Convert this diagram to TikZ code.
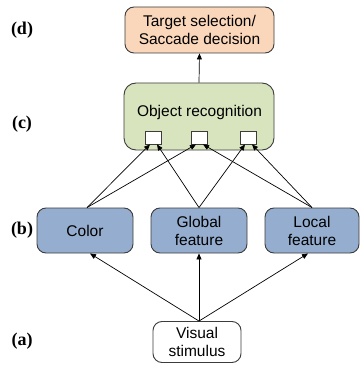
\documentclass[tikz,border=0pt]{standalone}
\usepackage{fontspec}
\setmainfont{Liberation Sans}
\newfontfamily\labelfont{Liberation Serif}
\usetikzlibrary{arrows.meta,calc}

\definecolor{peach}{RGB}{250,214,186}
\definecolor{sage}{RGB}{215,228,190}
\definecolor{steel}{RGB}{149,173,206}
\definecolor{edge}{RGB}{60,60,60}

\tikzset{
  box/.style={draw=edge, line width=0.9pt, rounded corners=9pt, align=center,
    inner sep=0pt, font=\fontsize{15.5}{18}\selectfont},
  port/.style={draw=edge, line width=0.8pt, fill=white, minimum width=16pt,
    minimum height=13pt, inner sep=0pt},
  link/.style={line width=0.7pt, -{Triangle[length=6pt,width=5pt]}},
  level/.style={font=\labelfont\bfseries\fontsize{18}{20}\selectfont}
}

\begin{document}
\begin{tikzpicture}[x=1pt,y=-1pt]
\useasboundingbox (0,0) rectangle (360,366);

% top decision stage
\node[box, fill=peach, minimum width=149pt, minimum height=46pt] (target) at (199.5,30)
  {Target selection/\\Saccade decision};

% recognition stage with its three input ports
\node[box, fill=sage, rounded corners=12pt, minimum width=150pt, minimum height=67pt] (obj) at (199,116.5) {};
\node[font=\fontsize{15.5}{18}\selectfont, inner sep=0pt] (objtext) at (199.5,112.5) {Object recognition};
\node[port] (s1) at (153.5,137.5) {};
\node[port] (s2) at (199.5,137.5) {};
\node[port] (s3) at (248.5,137.5) {};

% feature stage
\node[box, fill=steel, minimum width=96pt, minimum height=45pt] (color) at (85,230.5) {Color};
\node[box, fill=steel, minimum width=96pt, minimum height=45pt] (global) at (199,230.5) {Global\\feature};
\node[box, fill=steel, minimum width=94pt, minimum height=45pt] (local) at (312,230.5) {Local\\feature};

% input
\node[box, fill=white, minimum width=88pt, minimum height=41pt] (visual) at (197,342) {Visual\\stimulus};

% stage labels
\node[level] (la) at (22,341) {(a)};
\node[level] (lb) at (22,230) {(b)};
\node[level] (lc) at (22,124) {(c)};
\node[level] (ld) at (22,30) {(d)};

% stimulus to features
\coordinate (vtop) at ($(visual.north)+(2,0)$);
\draw[link] (vtop) -- ($(color.south)+(5,0)$);
\draw[link] (vtop) -- (global.south);
\draw[link] (vtop) -- ($(local.south)+(-4,0)$);

% features to ports
\coordinate (ctop) at ($(color.north)+(2,0)$);
\coordinate (gtop) at (global.north);
\coordinate (ltop) at (local.north);
\draw[link] (ctop) -- ($(s1.south)+(-3.5,0)$);
\draw[link] (ctop) -- ($(s2.south)+(-3.5,0)$);
\draw[link] (gtop) -- ($(s1.south)+(3.5,0)$);
\draw[link] (gtop) -- ($(s3.south)+(-3.5,0)$);
\draw[link] (ltop) -- ($(s2.south)+(3.5,0)$);
\draw[link] (ltop) -- ($(s3.south)+(3.5,0)$);

% recognition to decision
\draw[link] (obj.north) -- (target.south);
\end{tikzpicture}
\end{document}
